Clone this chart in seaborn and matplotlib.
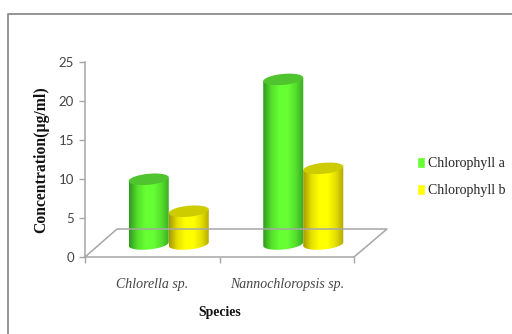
import numpy as np
import pandas as pd
import matplotlib
matplotlib.use('Agg')
import matplotlib.pyplot as plt
from matplotlib.colors import LinearSegmentedColormap
from matplotlib.lines import Line2D
from matplotlib.patches import Polygon
import seaborn as sns

species = ['Chlorella sp.', 'Nannochloropsis sp.']
pigments = ['Chlorophyll a', 'Chlorophyll b']
chl_a = [8.3, 21.1]
chl_b = [4.2, 9.7]
y_ticks = [0, 5, 10, 15, 20, 25]

df = pd.DataFrame({
    'Species': species * 2,
    'Pigment': [pigments[0]] * 2 + [pigments[1]] * 2,
    'Concentration': chl_a + chl_b,
})

sns.set_style('white')
plt.rcParams['font.family'] = ['Liberation Serif', 'DejaVu Serif']

W, H = 512, 334
fig = plt.figure(figsize=(W / 100, H / 100), dpi=100)
fig.patch.set_facecolor('#ffffff')

grey = '#a6a6a6'
text_col = '#444444'


def px_rect(x0, y0, x1, y1):
    return [x0 / W, 1 - y1 / H, (x1 - x0) / W, (y1 - y0) / H]


def frame_line(xs, ys, color=grey, lw=1.2):
    fig.add_artist(Line2D([x / W for x in xs], [1 - y / H for y in ys], color=color, lw=lw))


# outer chart border, runs off the image on the right and bottom
frame_line([8, 8, 512], [334, 14, 14], color='#8c8c8c', lw=1.3)

# front axes: the scale
ax = fig.add_axes(px_rect(85, 62, 354, 257))
ax.set_xlim(-0.5, 1.5)
ax.set_ylim(0, 25)
ax.set_facecolor('none')
for name in ['top', 'right']:
    ax.spines[name].set_visible(False)
for name in ['left', 'bottom']:
    ax.spines[name].set_color(grey)
    ax.spines[name].set_linewidth(1.1)
ax.set_yticks(y_ticks)
ax.set_yticklabels(y_ticks, family='Lato', fontsize=9.5, color=text_col)
ax.tick_params(axis='y', left=True, length=4, width=1, color=grey, pad=4)
ax.set_xticks(range(len(species)))
ax.set_xticklabels(species, style='italic', fontsize=10, color=text_col, va='center')
ax.tick_params(axis='x', which='major', bottom=False, pad=16)
ax.set_xticks([-0.5, 0.5, 1.5], minor=True)
ax.tick_params(axis='x', which='minor', bottom=True, length=4, width=1, color=grey)
ax.set_ylabel('Concentration(µg/ml)', fontsize=11.3, fontweight='bold', color='#111111', labelpad=6.5)
ax.set_xlabel('Species', fontsize=9.8, fontweight='bold', color='#111111')
ax.xaxis.set_label_coords(0.5, -0.25)

# floor of the 3D box
frame_line([85, 117, 387, 354], [257, 229, 229, 257], lw=1.1)

# bars sit on the middle of the floor: same scale, shifted up and right
ax2 = fig.add_axes(px_rect(85 + 16.5, 62 - 13, 354 + 16.5, 257 - 13))
ax2.patch.set_visible(False)
palette = {pigments[0]: '#66ff33', pigments[1]: '#ffff00'}
sns.barplot(data=df, x='Species', y='Concentration', hue='Pigment', hue_order=pigments,
            palette=palette, saturation=1, width=0.595, gap=0, ax=ax2)
ax2.axis('off')

handles, labels = ax2.get_legend_handles_labels()
ax2.legend(handles, labels, loc='center left', bbox_to_anchor=(417 / W, 1 - 177 / H),
           bbox_transform=fig.transFigure, frameon=False, fontsize=10, labelcolor='#222222',
           handlelength=0.6, handleheight=0.8, handletextpad=0.18, labelspacing=1.0,
           borderpad=0, borderaxespad=0)

shades = {
    pigments[0]: (['#2f9a1e', '#55e02c', '#66ff33', '#66ff33', '#55e02c', '#3aa824'], '#4fc42e'),
    pigments[1]: (['#a89a00', '#e6e000', '#ffff00', '#ffff00', '#e6e000', '#b0a800'], '#cccc00'),
}
x_scale = (354 - 85) / 2
y_scale = (257 - 62) / 25
rad_y = 5.5 / y_scale
tilt = 0.09 * x_scale / y_scale
t = np.linspace(0, 2 * np.pi, 80)

for container, pigment in zip(ax2.containers, pigments):
    cols, top_col = shades[pigment]
    cmap = LinearSegmentedColormap.from_list(pigment, cols)
    for bar in container:
        bar.set_alpha(0)
        x0, w, h = bar.get_x(), bar.get_width(), bar.get_height()
        cx = x0 + w / 2
        ex = w / 2 * np.cos(t)
        low = t[(t >= np.pi)]
        ex_low = w / 2 * np.cos(low)
        body = np.vstack([
            [[x0, h + tilt * (-w / 2)]],
            np.column_stack([cx + ex_low, rad_y * np.sin(low) + tilt * ex_low]),
            [[x0 + w, h + tilt * (w / 2)]],
        ])
        clip = Polygon(body, closed=True, transform=ax2.transData, fc='none', ec='none')
        ax2.add_patch(clip)
        clip.set_clip_on(False)
        im = ax2.imshow(np.linspace(0, 1, 64)[None, :], cmap=cmap, aspect='auto',
                        extent=[x0, x0 + w, -2 * rad_y - abs(tilt) * w, h + abs(tilt) * w + rad_y],
                        zorder=3, interpolation='bilinear')
        im.set_clip_box(fig.bbox)
        im.set_clip_path(clip)
        ax2.add_patch(Polygon(np.column_stack([cx + ex, h + rad_y * np.sin(t) + tilt * ex]),
                              closed=True, fc=top_col, ec='none', zorder=3, clip_on=False))
ax2.set_xlim(-0.5, 1.5)
ax2.set_ylim(0, 25)

fig.savefig('out.png', dpi=100)
